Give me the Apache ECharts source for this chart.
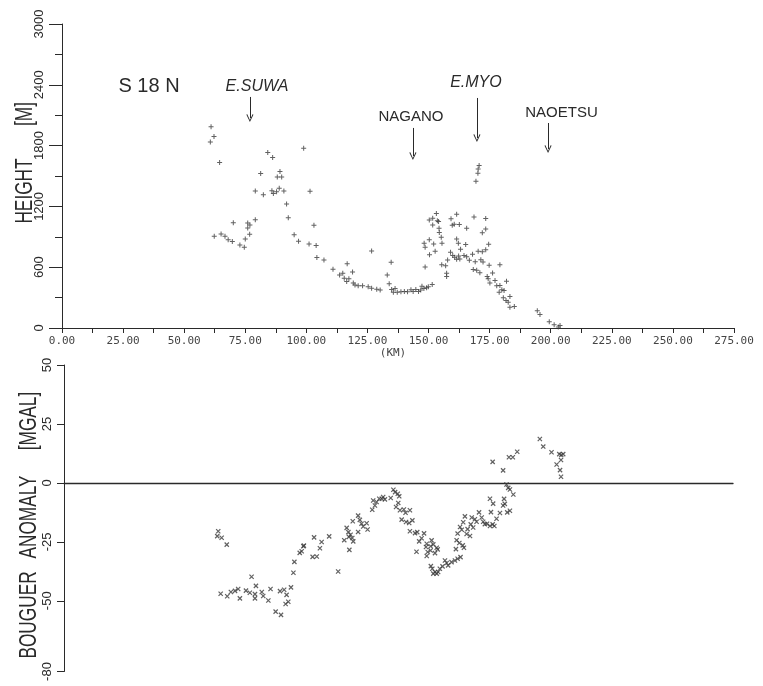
<!DOCTYPE html>
<html><head><meta charset="utf-8">
<script src="https://cdn.jsdelivr.net/npm/echarts@6/dist/echarts.min.js"></script>
<style>html,body{margin:0;padding:0;background:#fff}#c{width:763px;height:686px}</style>
</head><body><div id="c"></div>
<script>
// ---- HEIGHT profile (top panel): distance [km] and height [m]
const heightKm = [61.0,62.2,60.7,64.5,62.3,65.1,66.7,68.0,69.7,70.1,72.8,74.6,75.0,76.8,76.0,76.9,76.0,79.1,79.1,81.3,82.4,84.2,86.2,89.2,88.1,89.9,88.9,85.9,86.5,87.8,90.8,91.9,92.6,95.0,96.8,98.9,
101.5,103.1,101.1,104.0,104.3,107.2,110.9,113.6,114.9,116.7,118.9,115.5,116.5,117.4,119.2,119.9,121.2,123.0,125.3,126.7,128.8,130.2,126.7,133.1,133.9,134.7,134.9,136.3,135.6,137.2,138.7,140.1,141.4,142.8,143.7,144.8,145.9,146.8,147.3,148.1,149.2,149.9,151.5,148.6,148.2,148.6,150.3,150.4,152.1,152.7,150.3,151.7,153.2,153.6,151.7,154.1,154.3,154.4,155.2,155.5,155.4,157.0,157.4,157.4,157.8,159.0,159.9,160.7,161.5,162.3,163.1,161.5,162.2,162.8,164.5,165.2,165.6,166.7,168.0,170.3,159.2,159.7,160.5,161.5,162.6,165.6,168.6,173.4,172.0,173.4,174.6,172.0,173.4,171.4,172.3,169.1,168.3,169.7,171.0,169.4,170.2,170.7,170.3,174.8,176.2,174.0,174.4,175.1,177.2,177.9,179.2,179.2,180.0,180.9,178.9,181.9,180.6,181.7,183.3,182.6,183.3,185.1,194.5,195.6,199.4,201.4,203.1,203.8];
const heightM = [1987,1889,1836,1633,905,928,905,872,853,1039,820,797,879,925,987,1016,1036,1069,1351,1525,1315,1731,1682,1544,1489,1489,1380,1354,1328,1344,1351,1223,1089,921,856,1774,
1349,1014,828,814,695,672,579,522,541,633,553,492,459,485,445,425,418,418,407,393,382,375,760,522,436,649,380,390,354,354,357,360,357,377,360,380,360,374,413,390,397,407,430,601,837,798,870,723,830,757,1066,1083,1131,1059,1017,1050,985,942,896,837,624,614,541,508,672,748,715,699,679,711,777,878,836,682,715,823,702,669,728,757,1079,1014,1024,1122,1021,985,1095,1081,940,976,826,753,772,674,651,654,578,571,545,1449,1527,1603,1570,619,542,509,486,443,468,418,623,420,377,370,354,462,298,272,311,255,206,212,171,133,62,33,10,25];

// ---- BOUGUER anomaly (bottom panel): distance [km] and anomaly [mGal]
const bouguerKm = [63.4,63.0,64.8,66.9,64.4,67.1,68.6,70.3,71.6,72.3,74.8,76.4,77.1,78.5,78.9,78.5,81.3,81.9,84.0,84.9,87.0,89.2,88.8,90.5,91.5,92.2,91.1,93.3,94.3,94.7,96.9,98.4,
97.7,98.6,102.2,103.9,102.8,105.2,105.9,109.0,112.7,115.2,117.3,116.2,116.9,117.8,117.1,118.5,118.9,118.7,120.9,121.6,120.9,122.3,123.0,124.4,124.8,126.7,127.1,127.8,128.5,129.6,130.6,131.2,131.9,134.3,135.4,136.1,137.2,137.8,136.5,137.4,138.1,139.7,140.4,142.2,138.8,140.6,141.9,143.2,142.2,144.3,145.2,148.0,146.0,147.0,144.9,149.1,148.8,149.5,149.1,150.7,151.1,151.8,150.7,153.2,153.6,152.5,150.8,151.4,152.5,153.2,151.8,153.8,154.5,155.6,156.6,157.3,157.9,159.3,160.7,161.8,163.0,161.1,161.4,161.8,162.5,162.8,163.5,163.9,164.4,164.1,164.8,165.5,165.9,166.9,167.2,167.6,168.2,168.9,169.6,170.6,171.7,172.3,173.0,173.9,175.1,176.2,176.9,175.1,176.4,175.5,177.8,179.2,180.9,180.5,181.2,182.2,183.3,181.9,182.6,183.3,184.7,180.5,176.2,182.9,184.5,186.3,
195.6,197.0,200.4,203.6,204.4,205.2,202.5,204.3,203.9,204.3];
const bouguerMgal = [-20.5,-22.6,-23.3,-26.2,-47.0,-48.1,-46.3,-45.8,-45.0,-49.0,-45.7,-46.6,-39.8,-47.2,-43.7,-49.0,-46.3,-48.0,-49.9,-45.0,-54.6,-56.0,-45.9,-45.3,-47.5,-50.4,-51.4,-44.3,-38.1,-33.5,-29.7,-26.9,
-29.0,-26.6,-31.4,-31.2,-23.1,-27.7,-25.1,-22.7,-37.6,-24.3,-28.4,-19.1,-20.9,-22.0,-22.9,-23.4,-24.8,-16.3,-13.9,-15.7,-20.8,-17.3,-18.5,-17.1,-19.8,-11.4,-7.5,-9.6,-8.1,-6.7,-6.7,-6.0,-7.0,-6.4,-2.9,-3.9,-4.6,-5.7,-10.2,-8.5,-11.6,-11.3,-12.7,-11.6,-15.6,-16.6,-17.0,-15.9,-20.5,-21.3,-20.9,-21.4,-24.8,-23.5,-29.2,-25.8,-27.2,-29.3,-31.0,-28.7,-24.4,-26.1,-26.9,-27.5,-28.2,-29.8,-35.3,-36.4,-37.8,-38.5,-38.5,-37.8,-36.4,-35.4,-32.9,-34.0,-35.0,-33.6,-32.9,-32.2,-31.5,-28.1,-24.3,-21.5,-25.5,-18.7,-19.9,-26.5,-27.5,-16.7,-14.2,-21.7,-19.6,-22.5,-17.6,-14.7,-18.9,-15.4,-16.5,-12.5,-14.7,-16.5,-17.5,-17.3,-18.3,-17.6,-18.3,-6.7,-8.8,-12.4,-15.2,-12.8,-6.8,-9.6,-8.9,-12.5,-11.8,-0.7,-2.1,-2.8,-4.9,5.3,8.9,10.9,10.9,13.2,
18.6,15.4,13.0,12.2,11.8,12.2,7.8,9.7,5.4,2.6];

// ---- axis ticks and annotations
const heightTicks = [0,600,1200,1800,2400,3000];
const bouguerTicks = [-80,-50,-25,0,25,50];
const placeNames = ['E.SUWA','NAGANO','E.MYO','NAOETSU'];
const placeKm = [76.9,143.6,169.8,198.9];

// ---- layout (not data)
const arrowFromM = [2280,1974,2270,2023];
const arrowToM   = [2072,1697,1875,1766];
const labelAt = [[79.8,2378],[142.8,2082],[169.4,2418],[204.4,2122]];
const labelItalic = [true,false,true,false];

const ink = '#2a2a2a';
const markInk = '#3a3a3a';
const plus = 'path://M0,4L10,4L10,6L0,6Z M4,0L6,0L6,10L4,10Z';
const chevron = 'path://M5,0L10,9L9,10L5,2.6L1,10L0,9Z';
const sans = '"Liberation Sans",Arial,sans-serif';
const mono = '"DejaVu Sans Mono","Liberation Mono",monospace';

const chart = echarts.init(document.getElementById('c'));
const lineSt = {color: ink, width: 1};

function axisName(text, x, y) {
  return {type: 'text', x: x, y: y, rotation: Math.PI / 2, scaleX: 0.75,
          style: {text: text, font: '23px ' + sans, fill: ink, align: 'center', verticalAlign: 'middle'}};
}

chart.setOption({
  animation: false,
  backgroundColor: '#fff',
  grid: [
    {left: 62, top: 24, width: 672, height: 304},
    {left: 64, top: 365, width: 669, height: 306.5}
  ],
  xAxis: [
    {type: 'value', gridIndex: 0, min: 0, max: 275, interval: 25,
     axisLine: {show: true, lineStyle: lineSt},
     axisTick: {show: true, length: 5, lineStyle: lineSt},
     minorTick: {show: true, splitNumber: 2, length: 5, lineStyle: lineSt},
     axisLabel: {show: true, margin: 8, color: '#444', fontFamily: mono, fontSize: 11,
                 formatter: v => v.toFixed(2)},
     splitLine: {show: false}, minorSplitLine: {show: false}},
    {type: 'value', gridIndex: 1, min: 0, max: 275,
     axisLine: {show: true, onZero: true, lineStyle: {color: ink, width: 1.3}},
     axisTick: {show: false}, axisLabel: {show: false},
     splitLine: {show: false}}
  ],
  yAxis: [
    {type: 'value', gridIndex: 0, min: 0, max: 3000, interval: 600,
     axisLine: {show: true, lineStyle: lineSt},
     axisTick: {show: true, length: 13, lineStyle: lineSt},
     minorTick: {show: true, splitNumber: 2, length: 7, lineStyle: lineSt},
     axisLabel: {show: true, rotate: 90, margin: 16, color: ink, fontFamily: sans, fontSize: 13,
                 customValues: heightTicks, formatter: v => String(v)},
     splitLine: {show: false}, minorSplitLine: {show: false}},
    {type: 'value', gridIndex: 1, min: -80, max: 50,
     axisLine: {show: true, onZero: false, lineStyle: lineSt},
     axisTick: {show: true, length: 7, lineStyle: lineSt, customValues: bouguerTicks},
     axisLabel: {show: true, rotate: 90, margin: 10, color: ink, fontFamily: sans, fontSize: 13,
                 customValues: bouguerTicks, formatter: v => String(v)},
     splitLine: {show: false}}
  ],
  series: [
    {type: 'scatter', xAxisIndex: 0, yAxisIndex: 0, symbol: plus, symbolSize: 5,
     itemStyle: {color: markInk},
     data: heightKm.map((k, i) => [k, heightM[i]]),
     markLine: {silent: true, symbol: ['none', chevron], symbolSize: [7, 8],
       lineStyle: {color: ink, width: 1, type: 'solid'}, label: {show: false},
       itemStyle: {color: ink},
       data: placeKm.map((k, i) => [{coord: [k, arrowFromM[i]]}, {coord: [k, arrowToM[i]]}])},
     markPoint: {silent: true, symbol: 'circle', symbolSize: 1,
       itemStyle: {color: 'rgba(0,0,0,0)'},
       data: placeNames.map((n, i) => ({coord: labelAt[i], name: n,
         label: {show: true, position: 'inside', formatter: n, color: ink,
                 fontFamily: sans, fontSize: labelItalic[i] ? 16 : 15,
                 fontStyle: labelItalic[i] ? 'italic' : 'normal'}}))}
    },
    {type: 'scatter', xAxisIndex: 1, yAxisIndex: 1, symbol: plus, symbolSize: 6, symbolRotate: 45,
     itemStyle: {color: markInk},
     data: bouguerKm.map((k, i) => [k, bouguerMgal[i]])}
  ],
  graphic: [
    {type: 'text', x: 149, y: 86, style: {text: 'S 18 N', font: '20px ' + sans, fill: ink, align: 'center', verticalAlign: 'middle'}},
    {type: 'text', x: 393, y: 353, style: {text: '(KM)', font: '11px ' + mono, fill: '#444', align: 'center', verticalAlign: 'middle'}},
    axisName('HEIGHT', 26, 191),
    axisName('[M]', 26, 114),
    axisName('BOUGUER', 30, 615),
    axisName('ANOMALY', 30, 517),
    axisName('[MGAL]', 30, 421)
  ]
});
</script>
</body></html>
